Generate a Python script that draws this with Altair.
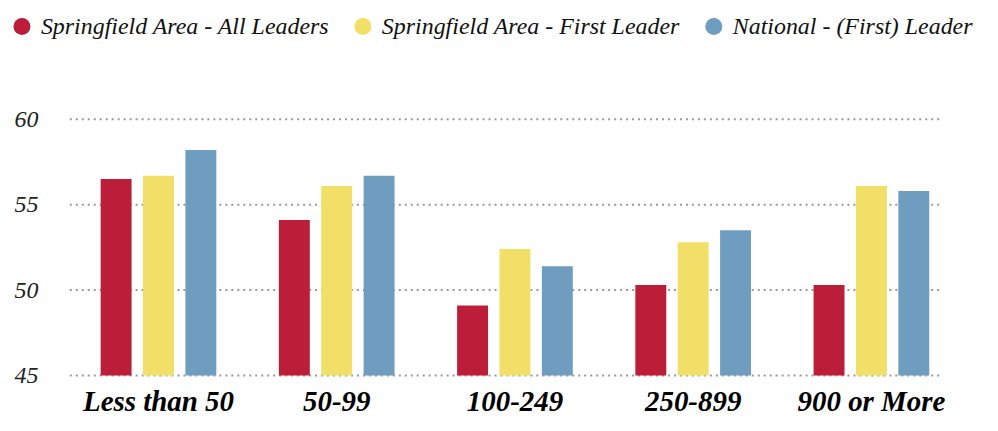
import altair as alt
import pandas as pd

groups = ["Less than 50", "50-99", "100-249", "250-899", "900 or More"]
series = ["Springfield Area - All Leaders", "Springfield Area - First Leader", "National - (First) Leader"]
all_leaders = [56.5, 54.1, 49.1, 50.3, 50.3]
first_leader = [56.7, 56.1, 52.4, 52.8, 56.1]
national = [58.2, 56.7, 51.4, 53.5, 55.8]
colors = ["#BC1E39", "#F1DF68", "#6F9DBF"]
grid_values = [45, 50, 55, 60]

rows = []
for s, vals in zip(series, [all_leaders, first_leader, national]):
    for g, v in zip(groups, vals):
        rows.append({"group": g, "series": s, "value": v})
df = pd.DataFrame(rows)
grid_df = pd.DataFrame({"v": grid_values})

W, H = 893, 257
GRID_W = 875
FONT = "Times New Roman, Liberation Serif, serif"
yscale = alt.Scale(domain=[45, 60], zero=False, nice=False)

rules = alt.Chart(grid_df).mark_rule(color="#999999", strokeWidth=2, strokeDash=[2, 4]).encode(
    y=alt.Y("v:Q", scale=yscale, axis=alt.Axis(values=grid_values, title=None, grid=False,
                                                domain=False, ticks=False, labelPadding=32,
                                                labelFont=FONT, labelFontStyle="italic",
                                                labelFontSize=24, labelColor="#222222")),
    x=alt.value(0),
    x2=alt.value(GRID_W),
)

bars = alt.Chart(df).mark_bar().encode(
    x=alt.X("group:N", sort=groups,
            scale=alt.Scale(paddingInner=0.351, paddingOuter=0.173),
            axis=alt.Axis(title=None, domain=False, ticks=False, labelAngle=0, labelPadding=12,
                          labelFont=FONT, labelFontStyle="italic", labelFontWeight="bold",
                          labelFontSize=29, labelColor="#000000")),
    xOffset=alt.XOffset("series:N", sort=series, scale=alt.Scale(paddingInner=0.27, paddingOuter=0)),
    y=alt.Y("value:Q", scale=yscale),
    y2=alt.datum(45),
    color=alt.Color("series:N", sort=series, scale=alt.Scale(domain=series, range=colors),
                    legend=alt.Legend(title=None, orient="none", direction="horizontal",
                                      legendX=-60, legendY=-105,
                                      symbolType="circle", symbolSize=290, symbolStrokeWidth=0,
                                      labelFont=FONT, labelFontStyle="italic",
                                      labelFontSize=24, labelColor="#111111", labelOffset=7,
                                      columnPadding=21, labelLimit=400)),
)

chart = alt.layer(rules, bars).properties(
    width=W, height=H,
    padding={"left": 62, "top": 111, "right": 30, "bottom": 52},
    autosize=alt.AutoSizeParams(type="none"),
).configure_view(stroke=None)

chart.save("out.html", embed_options={"renderer": "svg", "actions": False})
